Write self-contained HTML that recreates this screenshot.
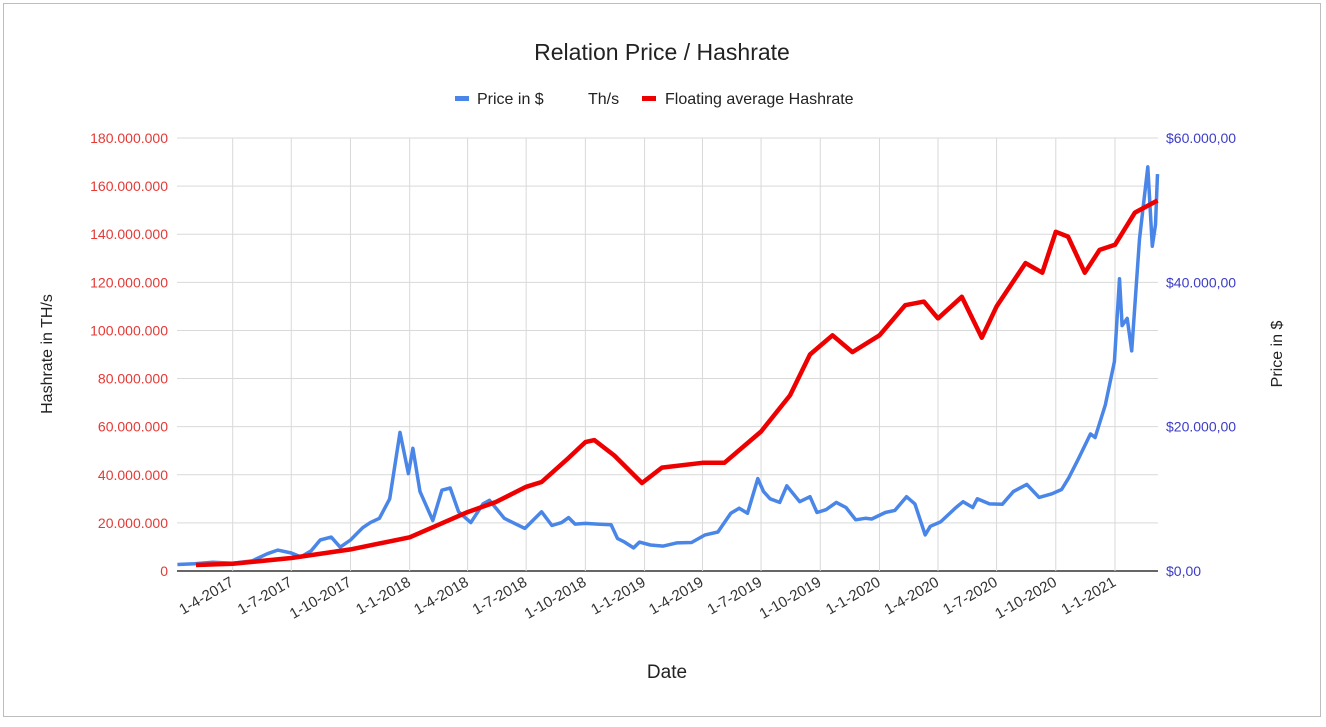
<!DOCTYPE html>
<html><head><meta charset="utf-8"><style>
html,body{margin:0;padding:0;background:#fff;}
body{width:1326px;height:722px;overflow:hidden;font-family:"Liberation Sans",sans-serif;}
</style></head><body>
<svg id="chart" width="1326" height="722" xmlns="http://www.w3.org/2000/svg" font-family="Liberation Sans, sans-serif">
<rect x="3.5" y="3.5" width="1317" height="713" fill="#fff" stroke="#bdbdbd"/>
<text x="662" y="60" text-anchor="middle" font-size="23" fill="#222">Relation Price / Hashrate</text>
<g font-size="16" fill="#222">
 <g><rect x="455" y="96" width="14" height="5" fill="#4a86e8"/><text x="477" y="104">Price in $</text></g>
 <g><text x="588" y="104">Th/s</text></g>
 <g><rect x="642" y="96" width="14" height="5" fill="#e00"/><text x="665" y="104">Floating average Hashrate</text></g>
</g>
<g id="grid"></g>
<g id="yl" font-size="14" fill="#e53935" text-anchor="end"></g>
<g id="yr" font-size="14" fill="#3c3cc8"></g>
<g id="xl" font-size="15" fill="#333"></g>
<text transform="translate(52,354) rotate(-90)" text-anchor="middle" font-size="16" fill="#222">Hashrate in TH/s</text>
<text transform="translate(1282,354) rotate(-90)" text-anchor="middle" font-size="16" fill="#222">Price in $</text>
<text x="667" y="678" text-anchor="middle" font-size="19" fill="#222">Date</text>
<g id="series"></g>
</svg>
<script>
const xTickLabels=["1-4-2017","1-7-2017","1-10-2017","1-1-2018","1-4-2018","1-7-2018","1-10-2018","1-1-2019","1-4-2019","1-7-2019","1-10-2019","1-1-2020","1-4-2020","1-7-2020","1-10-2020","1-1-2021"];
const xTickDates=["2017-04-01","2017-07-01","2017-10-01","2018-01-01","2018-04-01","2018-07-01","2018-10-01","2019-01-01","2019-04-01","2019-07-01","2019-10-01","2020-01-01","2020-04-01","2020-07-01","2020-10-01","2021-01-01"];
const leftTicks=[0,20000000,40000000,60000000,80000000,100000000,120000000,140000000,160000000,180000000];
const leftTickLabels=["0","20.000.000","40.000.000","60.000.000","80.000.000","100.000.000","120.000.000","140.000.000","160.000.000","180.000.000"];
const rightTicks=[0,20000,40000,60000];
const rightTickLabels=["$0,00","$20.000,00","$40.000,00","$60.000,00"];
const priceDates=["2017-01-05","2017-02-01","2017-03-01","2017-04-01","2017-05-01","2017-05-25","2017-06-10","2017-07-01","2017-07-16","2017-08-01","2017-08-15","2017-09-01","2017-09-15","2017-10-01","2017-10-20","2017-11-01","2017-11-15","2017-12-01","2017-12-17","2017-12-30","2018-01-06","2018-01-17","2018-02-06","2018-02-20","2018-03-05","2018-03-18","2018-04-06","2018-04-25","2018-05-05","2018-05-28","2018-06-15","2018-06-29","2018-07-25","2018-08-10","2018-08-25","2018-09-05","2018-09-15","2018-10-01","2018-10-20","2018-11-10","2018-11-20","2018-12-01","2018-12-15","2018-12-24","2019-01-10","2019-01-30","2019-02-20","2019-03-15","2019-04-05","2019-04-25","2019-05-15","2019-05-28","2019-06-10","2019-06-26","2019-07-05","2019-07-15","2019-07-30","2019-08-10","2019-08-30","2019-09-15","2019-09-26","2019-10-10","2019-10-26","2019-11-10","2019-11-25","2019-12-10","2019-12-20","2020-01-10","2020-01-25","2020-02-12","2020-02-25","2020-03-12","2020-03-20","2020-04-05","2020-04-29","2020-05-10","2020-05-25","2020-06-01","2020-06-20","2020-07-10","2020-07-27","2020-08-17","2020-09-05","2020-09-25","2020-10-10","2020-10-21","2020-11-05","2020-11-24","2020-12-01","2020-12-17","2020-12-31","2021-01-08","2021-01-12","2021-01-20","2021-01-27","2021-02-08","2021-02-21","2021-02-28","2021-03-05","2021-03-08"];
const priceValues=[900,1000,1200,1080,1400,2400,2900,2500,1950,2800,4300,4700,3300,4300,6000,6700,7300,10000,19200,13500,17000,11000,7000,11200,11500,8200,6700,9300,9800,7300,6500,5900,8200,6300,6700,7400,6500,6600,6500,6400,4500,4000,3200,4000,3600,3450,3900,3950,5000,5400,8000,8700,8000,12800,11000,10000,9500,11800,9600,10300,8100,8500,9500,8800,7100,7300,7200,8100,8400,10300,9300,5000,6200,6800,8800,9600,8800,10000,9300,9250,11000,12000,10200,10700,11300,12900,15500,19000,18500,23000,29000,40500,34000,35000,30500,46000,56000,45000,48000,55000];
const hashDates=["2017-02-03","2017-04-01","2017-07-01","2017-10-01","2018-01-01","2018-04-01","2018-05-15","2018-07-01","2018-07-25","2018-09-05","2018-10-01","2018-10-15","2018-11-15","2018-12-28","2019-01-28","2019-04-01","2019-05-05","2019-07-01","2019-08-15","2019-09-15","2019-10-20","2019-11-20","2020-01-01","2020-02-10","2020-03-10","2020-04-01","2020-05-08","2020-06-08","2020-07-01","2020-08-15","2020-09-10","2020-10-01","2020-10-20","2020-11-15","2020-12-08","2021-01-01","2021-02-01","2021-03-08"];
const hashValues=[2.5e6,3e6,5.4e6,9e6,14e6,24.5e6,28.7e6,35e6,37e6,47e6,53.6e6,54.4e6,48e6,36.6e6,43e6,45e6,45e6,58e6,73e6,90e6,98e6,91e6,98e6,110.5e6,112e6,105e6,114e6,97e6,110e6,128e6,124e6,141e6,139e6,124e6,133.5e6,135.6e6,149e6,154e6];

const NS="http://www.w3.org/2000/svg";
const X0=232.7,X1=1115,D0=Date.parse("2017-04-01"),D1=Date.parse("2021-01-01");
const PL=177,PR=1158,PT=138,PB=571;
function xs(d){return X0+(Date.parse(d)-D0)/(D1-D0)*(X1-X0);}
function yH(v){return PB-v/180000000*(PB-PT);}
function yP(v){return PB-v/60000*(PB-PT);}
function mk(t,a,p){const e=document.createElementNS(NS,t);for(const k in a)e.setAttribute(k,a[k]);p.appendChild(e);return e;}
const grid=document.getElementById('grid');
leftTicks.forEach((v,i)=>{
 const l=mk('line',{x1:PL,x2:PR,y1:yH(v),y2:yH(v),stroke:i==0?'#333':'#d9d9d9','stroke-width':i==0?1.5:1},grid);
 
 
 const t=mk('text',{x:168,y:yH(v)+5},document.getElementById('yl'));t.textContent=leftTickLabels[i];
 
 
});
rightTicks.forEach((v,i)=>{
 const t=mk('text',{x:1166,y:yP(v)+5},document.getElementById('yr'));t.textContent=rightTickLabels[i];
 
 
});
xTickDates.forEach((d,i)=>{
 const x=xs(d);
 const l=mk('line',{x1:x,x2:x,y1:PT,y2:PB,stroke:'#d9d9d9'},grid);
 
 
 const t=mk('text',{transform:`translate(${x+2},${PB+14}) rotate(-30)`,'text-anchor':'end'},document.getElementById('xl'));t.textContent=xTickLabels[i];
 
 
});
const s=document.getElementById('series');
const pp=mk('polyline',{points:priceDates.map((d,i)=>xs(d).toFixed(1)+','+yP(priceValues[i]).toFixed(1)).join(' '),fill:'none',stroke:'#4a86e8','stroke-width':3.5,'stroke-linejoin':'round'},s);


const hp=mk('polyline',{points:hashDates.map((d,i)=>xs(d).toFixed(1)+','+yH(hashValues[i]).toFixed(1)).join(' '),fill:'none',stroke:'#e00','stroke-width':4.5,'stroke-linejoin':'round'},s);


</script>
</body></html>
